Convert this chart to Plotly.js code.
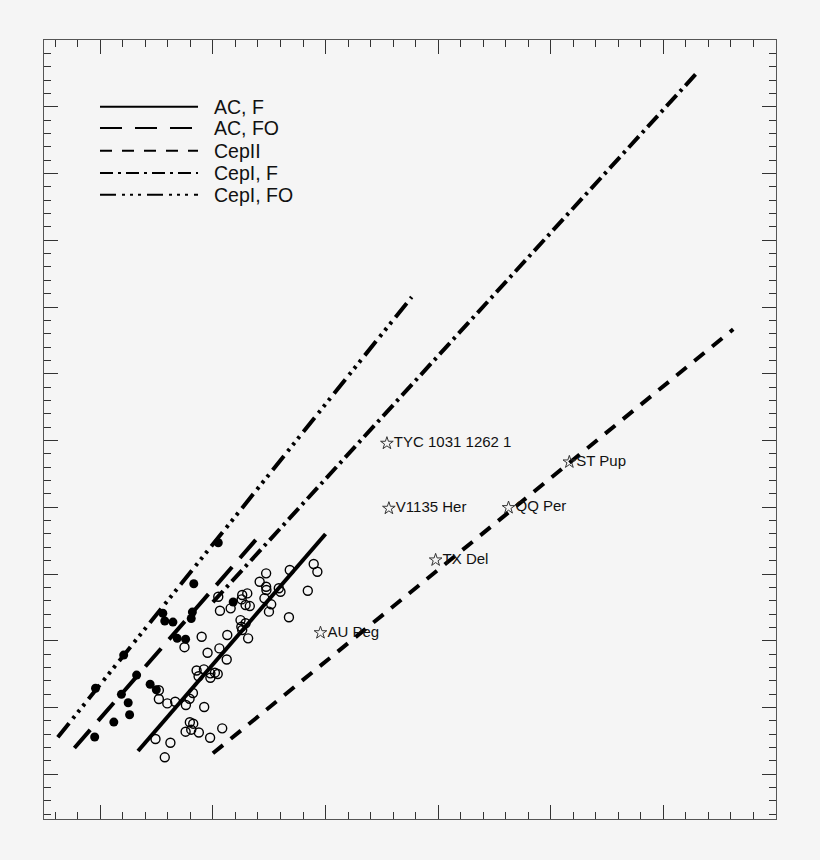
<!DOCTYPE html>
<html>
<head>
<meta charset="utf-8">
<script src="https://cdn.plot.ly/plotly-3.0.1.min.js"></script>
<style>
  html, body { margin: 0; padding: 0; background: #f5f5f5; }
  #myDiv { width: 820px; height: 860px; }
</style>
</head>
<body>
<div id="myDiv"></div>
<script>
// x = log P, y = absolute magnitude (brighter upward)

// relations (end points)
var acF_x = [-0.266, 0.400];
var acF_y = [-0.174, -1.800];
var acFO_x = [-0.492, 0.158];
var acFO_y = [-0.197, -1.770];
var cep2_x = [0.000, 1.848];
var cep2_y = [-0.157, -3.333];
var cep1F_x = [0.000, 1.722];
var cep1F_y = [-1.290, -5.260];
var cep1FO_x = [-0.551, 0.706];
var cep1FO_y = [-0.277, -3.575];

// anomalous cepheids, open circles
var open_x = [0.358, 0.371, 0.273, 0.189, 0.166, 0.189, 0.190, 0.234, 0.240, 0.337,
  0.122, 0.104, 0.102, 0.116, 0.131, 0.183, 0.207, 0.199, 0.270, 0.063,
  0.025, 0.019, 0.098, 0.116, 0.101, 0.104, 0.125, 0.051, -0.040, -0.101,
  0.023, -0.019, 0.049, -0.058, -0.032, -0.009, 0.007, 0.017, -0.009, -0.051,
  -0.192, -0.192, -0.162, -0.134, -0.096, -0.071, -0.083, -0.031, -0.082, -0.070,
  -0.097, -0.077, -0.050, 0.033, -0.010, -0.204, -0.151, -0.171];
var open_y = [-1.575, -1.517, -1.530, -1.505, -1.442, -1.405, -1.380, -1.393, -1.367, -1.375,
  -1.355, -1.343, -1.310, -1.268, -1.260, -1.318, -1.273, -1.218, -1.176, -1.243,
  -1.225, -1.330, -1.155, -1.131, -1.105, -1.081, -1.018, -1.043, -1.030, -0.952,
  -0.943, -0.910, -0.860, -0.777, -0.786, -0.756, -0.761, -0.751, -0.723, -0.734,
  -0.629, -0.564, -0.531, -0.543, -0.519, -0.609, -0.566, -0.504, -0.390, -0.379,
  -0.319, -0.334, -0.313, -0.344, -0.274, -0.264, -0.236, -0.127];

// filled circles
var full_x = [0.019, -0.068, -0.178, -0.171, -0.142, -0.073, -0.077, -0.127, -0.097, 0.072,
  -0.317, -0.271, -0.325, -0.301, -0.296, -0.352, -0.420, -0.417, -0.223, -0.201];
var full_y = [-1.734, -1.427, -1.206, -1.148, -1.140, -1.215, -1.167, -1.018, -1.012, -1.290,
  -0.893, -0.743, -0.599, -0.536, -0.446, -0.391, -0.279, -0.644, -0.674, -0.633];

// named stars
var star_names = ['TYC 1031 1262 1', 'ST Pup', 'V1135 Her', 'QQ Per', 'TX Del', 'AU Peg'];
var star_x = [0.618, 1.266, 0.625, 1.050, 0.791, 0.382];
var star_y = [-2.479, -2.339, -1.992, -1.997, -1.605, -1.060];

var legend_names = ['AC, F', 'AC, FO', 'CepII', 'CepI, F', 'CepI, FO'];

var dashes = ['solid', '24px,12px', '13px,10px', '15px,5px,3px,5px', '18px,6px,3px,5px,3px,5px,3px,6px'];
var legendDashes = ['solid', '22px,13px', '12px,10px', '13px,5px,3px,5px', '16px,6px,3px,5px,3px,5px,3px,6px'];

function relation(x, y, i) {
  return {
    x: x, y: y, mode: 'lines', type: 'scatter', name: legend_names[i],
    line: {color: '#000', width: 4, dash: dashes[i]},
    hoverinfo: 'skip'
  };
}

var plotData = [
  relation(acF_x, acF_y, 0),
  relation(acFO_x, acFO_y, 1),
  relation(cep2_x, cep2_y, 2),
  relation(cep1F_x, cep1F_y, 3),
  relation(cep1FO_x, cep1FO_y, 4),
  {
    x: open_x, y: open_y, mode: 'markers', type: 'scatter',
    marker: {symbol: 'circle-open', size: 9, color: '#000', line: {width: 1.4}}
  },
  {
    x: full_x, y: full_y, mode: 'markers', type: 'scatter',
    marker: {symbol: 'circle', size: 9, color: '#000'}
  },
  {
    x: star_x, y: star_y, mode: 'markers+text', type: 'scatter',
    text: star_names, textposition: 'middle right',
    textfont: {family: 'Liberation Sans, Arial, sans-serif', size: 15, color: '#111'},
    marker: {symbol: 'star-open', size: 9.5, color: '#333', line: {width: 1}}
  }
];

// legend drawn by hand so the line samples are long like the original
var shapes = [];
var annotations = [];
var rowY = [0.9144, 0.887, 0.8579, 0.8293, 0.8014];
for (var i = 0; i < legend_names.length; i++) {
  shapes.push({
    type: 'line', xref: 'paper', yref: 'paper',
    x0: 0.0765, x1: 0.2104, y0: rowY[i], y1: rowY[i],
    line: {color: '#000', width: 2, dash: legendDashes[i]}
  });
  annotations.push({
    xref: 'paper', yref: 'paper', x: 0.2295, y: rowY[i],
    xanchor: 'left', yanchor: 'middle', showarrow: false,
    text: legend_names[i],
    font: {family: 'Liberation Sans, Arial, sans-serif', size: 19.5, color: '#111'}
  });
}

var axisCommon = {
  showgrid: false,
  zeroline: false,
  showticklabels: false,
  showline: true,
  linecolor: '#555',
  linewidth: 1,
  mirror: 'allticks',
  ticks: 'inside',
  ticklen: 14,
  tickwidth: 1,
  tickcolor: '#333',
  tickmode: 'linear'
};

var layout = {
  width: 820,
  height: 860,
  showlegend: false,
  margin: {l: 44, r: 44, t: 40, b: 41},
  paper_bgcolor: '#f5f5f5',
  plot_bgcolor: '#f5f5f5',
  xaxis: Object.assign({}, axisCommon, {
    range: [-0.6, 2.0],
    tick0: 0, dtick: 0.4,
    minor: {ticks: 'inside', ticklen: 7, tickwidth: 1, tickcolor: '#333', tick0: 0, dtick: 0.08, showgrid: false}
  }),
  yaxis: Object.assign({}, axisCommon, {
    range: [0.335, -5.5],
    tick0: 0, dtick: 0.5,
    minor: {ticks: 'inside', ticklen: 7, tickwidth: 1, tickcolor: '#333', tick0: 0, dtick: 0.1, showgrid: false}
  }),
  shapes: shapes,
  annotations: annotations
};

Plotly.newPlot('myDiv', plotData, layout, {displayModeBar: false, staticPlot: true});
</script>
</body>
</html>
